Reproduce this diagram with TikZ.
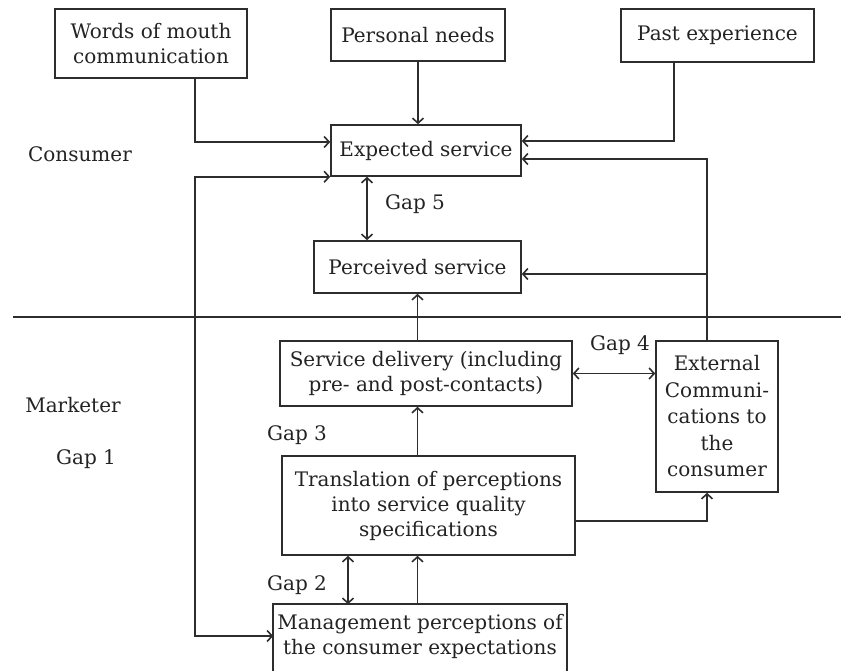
\documentclass[tikz,border=0pt]{standalone}
\usepackage{fontspec}
\setmainfont{DejaVu Serif}
\usetikzlibrary{arrows.meta}
\begin{document}
\begin{tikzpicture}[x=1pt,y=-1pt,
  line width=1.6pt, draw={rgb,255:red,45;green,45;blue,45},
  >={Straight Barb[length=5pt,width=11pt]},
  txt/.style={font=\fontsize{20}{25}\selectfont, text={rgb,255:red,35;green,35;blue,35}, align=center, inner sep=0pt},
  box/.style={txt, draw, rectangle}
]
\useasboundingbox (0,0) rectangle (841,671);
\clip (0,0) rectangle (841,671);

% boxes
\node[box, minimum width=192pt, minimum height=69pt] (wom) at (151,43.5) {Words of mouth\\communication};
\node[box, minimum width=174pt, minimum height=52pt] (pn) at (418,35) {Personal needs};
\node[box, minimum width=193pt, minimum height=53pt] (pe) at (717.5,35.5) {Past experience};
\node[box, minimum width=190pt, minimum height=51pt] (es) at (426,150.5) {Expected service};
\node[box, minimum width=207pt, minimum height=52pt] (ps) at (417.5,267) {Perceived service};
\node[box, minimum width=292pt, minimum height=65pt] (sd) at (426,373.5) {Service delivery (including\\pre- and post-contacts)};
\node[box, minimum width=122pt, minimum height=151pt, font=\fontsize{20}{26.5}\selectfont] (ec) at (717,416.5) {External\\Communi-\\cations to\\the\\consumer};
\node[box, minimum width=293pt, minimum height=99pt] (tr) at (428.5,505.5) {Translation of perceptions\\into service quality\\specifications};
\node[txt, minimum width=292pt, minimum height=62pt] (mp) at (420,636) {Management perceptions of\\the consumer expectations};
\draw ([yshift=-60pt]mp.south west) -- (mp.north west) -- (mp.north east) -- ([yshift=-60pt]mp.south east);

% labels
\node[txt] (lcons) at (80,154) {Consumer};
\node[txt] (lmark) at (73,405) {Marketer};
\node[txt] (g1) at (86,459) {Gap 1};
\node[txt] (g3) at (297,435) {Gap 3};
\node[txt] (g2) at (297,585) {Gap 2};
\node[txt] (g5) at (415,204) {Gap 5};
\node[txt] (g4) at (620,345) {Gap 4};

% divider
\coordinate (divL) at (13,317);
\coordinate (divR) at (841,317);
\draw (divL) -- (divR);

% helper coordinates
\coordinate (lx) at ([xshift=44pt]wom.south);
\coordinate (px) at ([xshift=-43.5pt]pe.south);
\coordinate (ecx) at ([xshift=-10pt]ec.north);
\coordinate (ax) at (ps.south);
\coordinate (g5x) at ([xshift=-59pt]es.south);
\coordinate (g2x) at (348,600);

% connectors
\draw[->] (lx) |- ([yshift=8.5pt]es.west);
\draw[->] (pn.south) -- (pn.south |- es.north);
\draw[->] (px) |- ([yshift=9.5pt]es.east);
\draw[->] (ecx) |- ([yshift=-8.5pt]es.east);
\draw[->] ([yshift=-7pt]ecx |- ps.east) -- ([yshift=-7pt]ps.east);
\draw[<->] (g5x) -- (g5x |- ps.north);
\draw[->] (ax |- sd.north) -- (ps.south);
\draw[->] (ax |- tr.north) -- (ax |- sd.south);
\draw[<->] (sd.east) -- (sd.east -| ec.west);
\draw[->] ([yshift=-15.5pt]tr.east) -| (ecx |- ec.south);
\draw[<->] (g2x |- tr.south) -- (g2x |- mp.north);
\draw[->] (ax |- mp.north) -- (ax |- tr.south);
\draw[<->] (es.south west) -- (lx |- es.south west) -- (lx |- mp.west) -- (mp.west);
\end{tikzpicture}
\end{document}
